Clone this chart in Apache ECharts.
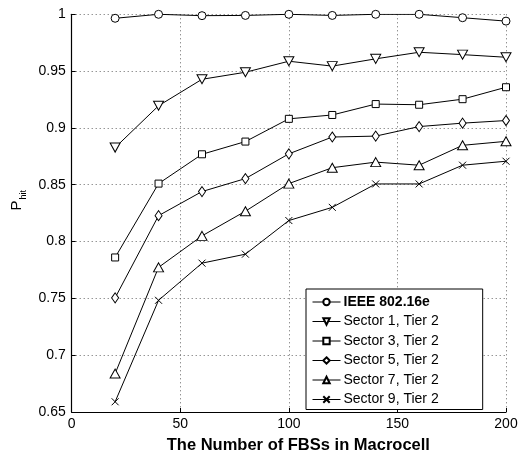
<!DOCTYPE html>
<html><head><meta charset="utf-8">
<script src="https://cdn.jsdelivr.net/npm/echarts@6/dist/echarts.min.js"></script>
<style>html,body{margin:0;padding:0;background:#fff}#c{width:529px;height:459px}</style>
</head><body><div id="c"></div>
<script>
const xValues = [20, 40, 60, 80, 100, 120, 140, 160, 180, 200];
const seriesNames = ['IEEE 802.16e', 'Sector 1, Tier 2', 'Sector 3, Tier 2', 'Sector 5, Tier 2', 'Sector 7, Tier 2', 'Sector 9, Tier 2'];
const ieee    = [0.9965, 1.000, 0.9988, 0.999, 1.000, 0.999, 1.000, 1.000, 0.997, 0.994];
const sector1 = [0.8827, 0.9195, 0.9428, 0.949, 0.9587, 0.9544, 0.9608, 0.9666, 0.9645, 0.9622];
const sector3 = [0.786, 0.851, 0.8768, 0.888, 0.908, 0.9114, 0.921, 0.9204, 0.9253, 0.9358];
const sector5 = [0.7505, 0.8228, 0.844, 0.8554, 0.8772, 0.892, 0.8928, 0.9012, 0.9042, 0.9065];
const sector7 = [0.6838, 0.7773, 0.805, 0.8267, 0.851, 0.865, 0.8699, 0.8672, 0.8847, 0.8882];
const sector9 = [0.659, 0.7483, 0.781, 0.7889, 0.8185, 0.8301, 0.8507, 0.8507, 0.8672, 0.8707];
const yTicks = [0.65, 0.7, 0.75, 0.8, 0.85, 0.9, 0.95, 1];
const xTicks = [0, 50, 100, 150, 200];

const allValues = [ieee, sector1, sector3, sector5, sector7, sector9];
const symbols = ['circle', 'path://M0,0L10,0L5,9Z', 'rect', 'diamond', 'triangle', 'path://M0,0L10,10M10,0L0,10'];
const symbolSizes = [8, [10, 9], 7, [7, 10], [10, 9], 7];
const font = '"Liberation Sans", Arial, sans-serif';

const chart = echarts.init(document.getElementById('c'));
chart.setOption({
  animation: false,
  backgroundColor: '#fff',
  grid: { left: 71.7, right: 23, top: 14.3, bottom: 42.3, containLabel: false },
  xAxis: {
    type: 'value', min: xTicks[0], max: xTicks[xTicks.length - 1], interval: 50,
    name: 'The Number of FBSs in Macrocell', nameLocation: 'middle', nameGap: 25,
    nameTextStyle: { fontFamily: font, fontSize: 16.5, fontWeight: 'bold', color: '#000', padding: [0, 0, 0, 19] },
    axisLine: { lineStyle: { color: '#000', width: 1.2 } },
    axisTick: { inside: true, length: 4, lineStyle: { color: '#000' } },
    axisLabel: { fontFamily: font, fontSize: 14, color: '#000', margin: 5 },
    splitLine: { show: true, lineStyle: { color: '#666', type: [1, 3], width: 1 } }
  },
  yAxis: {
    type: 'value', min: yTicks[0], max: yTicks[yTicks.length - 1], interval: 0.05,
    name: '{a|P}{b|hit}', nameLocation: 'middle', nameGap: 47, nameRotate: 90,
    nameTextStyle: {
      color: '#000', padding: [0, 0, 0, 26],
      rich: {
        a: { fontFamily: font, fontSize: 15, color: '#000', verticalAlign: 'bottom', lineHeight: 16 },
        b: { fontFamily: font, fontSize: 9, color: '#000', verticalAlign: 'bottom', lineHeight: 10, padding: [0, 0, -3, 1] }
      }
    },
    axisLine: { show: true, lineStyle: { color: '#000', width: 1.2 } },
    axisTick: { show: true, inside: true, length: 4, lineStyle: { color: '#000' } },
    axisLabel: {
      fontFamily: font, fontSize: 14, color: '#000', margin: 6,
      formatter: v => String(Math.round(v * 100) / 100)
    },
    splitLine: { show: true, lineStyle: { color: '#666', type: [1, 3], width: 1 } }
  },
  legend: {
    orient: 'vertical', left: 306, top: 289,
    backgroundColor: '#fff', borderColor: '#000', borderWidth: 1,
    padding: [6, 44, 3, 6], itemGap: 5.5, itemWidth: 28, itemHeight: 8,
    lineStyle: { width: 1, color: '#000' },
    textStyle: { fontFamily: font, fontSize: 14, color: '#000', padding: [0, 0, 0, -2] },
    data: seriesNames.map((n, i) => i === 0 ? { name: n, textStyle: { fontWeight: 'bold' } } : { name: n })
  },
  series: seriesNames.map((n, i) => ({
    name: n, type: 'line',
    data: xValues.map((x, j) => [x, allValues[i][j]]),
    symbol: symbols[i], symbolSize: symbolSizes[i], showSymbol: true,
    lineStyle: { color: '#000', width: 1 },
    itemStyle: { color: '#fff', borderColor: '#000', borderWidth: 1 },
    emphasis: { disabled: true }
  }))
});
</script></body></html>
